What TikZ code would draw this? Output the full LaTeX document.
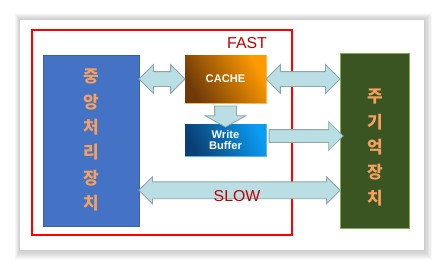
\documentclass[tikz,border=0pt]{standalone}
\usepackage{fontspec}
\setmainfont{Liberation Sans}
\newfontfamily\kr{Noto Sans CJK KR}
\usepackage{tikz}
\usetikzlibrary{shapes.arrows, calc, positioning}

\definecolor{cpublue}{HTML}{4472C4}
\definecolor{memgreen}{HTML}{3A5522}
\definecolor{memedge}{HTML}{7DB04F}
\definecolor{krorange}{HTML}{F4A060}
\definecolor{slowred}{HTML}{C00000}
\definecolor{arrowfill}{HTML}{B9DEE3}
\definecolor{arrowedge}{HTML}{8FA6A8}
\definecolor{cachedark}{HTML}{6E3A08}
\definecolor{cachelight}{HTML}{FF9A00}
\definecolor{bufdark}{HTML}{0A3F73}
\definecolor{buflight}{HTML}{0A9BF2}

\def\pu{0.03cm}

\tikzset{
  unitbox/.style={draw, inner sep=0pt, line width=0.6pt},
  krtext/.style={text=krorange, align=center, font=\kr\bfseries\fontsize{14.5}{21.6}\selectfont},
  boxtext/.style={text=white, align=center, font=\bfseries\fontsize{9.5}{9.5}\selectfont},
  speedtext/.style={text=slowred, font=\fontsize{13.5}{14}\selectfont},
  fatdouble/.style={double arrow, fill=arrowfill, draw=arrowedge, line width=0.7pt,
    inner xsep=0pt, double arrow tip angle=90},
  fatsingle/.style={single arrow, fill=arrowfill, draw=arrowedge, line width=0.7pt,
    inner xsep=0pt, single arrow tip angle=90},
}

\begin{document}
\begin{tikzpicture}[x=\pu, y=-\pu]
		\useasboundingbox (0,0) rectangle (444,271);
		% Draw card with shadow
		\foreach \i in {1,...,14}
			\fill[black, opacity=0.016] (20-\i*0.35,20-\i*0.5) rectangle (424+\i*0.6,250+\i*0.7);
		\fill[white] (20,20) rectangle (424,250);
		% Draw red frame
		\draw[red, line width=1.4pt] (32,30) rectangle (292,235);
		\node[speedtext] (fast) at (247,43) {FAST};
		% Draw units
		\node[unitbox, fill=cpublue, draw=cpublue!85!black, minimum width=96*\pu, minimum height=171*\pu] (cpu) at (91,140.5) {};
		\node[unitbox, fill=memgreen, draw=memedge, minimum width=69*\pu, minimum height=175*\pu] (mem) at (374.5,140.5) {};
		\node[krtext] (cputext) at (91,140) {중\\앙\\처\\리\\장\\치};
		\node[krtext] (memtext) at (375,147.5) {주\\기\\억\\장\\치};
		% Draw cache and write buffer
		\node[inner sep=0pt, minimum width=81*\pu, minimum height=48*\pu,
			shading=axis, left color=cachedark, right color=cachelight, shading angle=120] (cache) at (225.5,79) {};
		\draw[cachelight!70!white, line width=1.2pt] (cache.north east) -- (cache.south east) -- (cache.south west);
		\node[boxtext] at (cache.center) {CACHE};
		\node[inner sep=0pt, minimum width=81*\pu, minimum height=32*\pu,
			shading=axis, left color=bufdark, right color=buflight, shading angle=115] (buffer) at (225.5,140) {};
		\draw[buflight!70!white, line width=1.0pt] (buffer.north east) -- (buffer.south east) -- (buffer.south west);
		\node[boxtext] at (buffer.center) {Write\\Buffer};
		% Draw data paths
		\node[fatdouble, minimum height=46*\pu, inner ysep=7*\pu, double arrow head extend=7*\pu]
			(cpucache) at ($(cpu.east |- cache.west)!0.5!(cache.west)$) {};
		\node[fatdouble, minimum height=74*\pu, inner ysep=7*\pu, double arrow head extend=7*\pu]
			(cachemem) at ($(cache.east)!0.5!(mem.west |- cache.east)$) {};
		\node[fatsingle, rotate=-90, single arrow tip angle=122, minimum height=21*\pu,
			inner ysep=10.5*\pu, single arrow head extend=9.5*\pu]
			(cachebuf) at ($(cache.south)!0.5!(buffer.north)$) {};
		\node[fatsingle, minimum height=74*\pu, inner ysep=6*\pu, single arrow head extend=8*\pu]
			(bufmem) at ($(buffer.east)!0.5!(mem.west |- buffer.east)+(0,-4)$) {};
		\coordinate (slowleft) at ($(cpu.south east)!0.21!(cpu.north east)$);
		\node[fatdouble, minimum height=201*\pu, inner ysep=8*\pu, double arrow head extend=5*\pu]
			(cpumem) at ($(slowleft)!0.5!(mem.west |- slowleft)$) {};
		\node[speedtext] (slow) at (237,196) {SLOW};
	\end{tikzpicture}
\end{document}
